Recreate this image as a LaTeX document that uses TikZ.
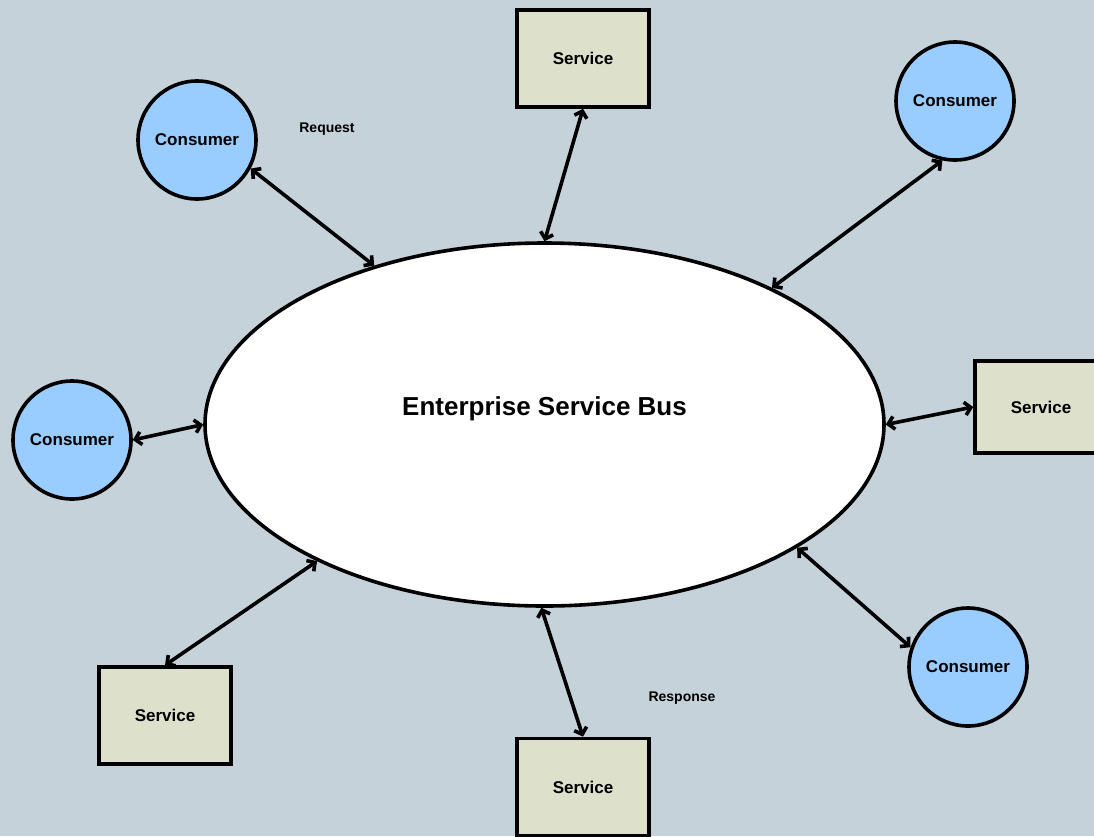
\documentclass[tikz,border=0pt]{standalone}
\usepackage{fontspec}
\setmainfont{Liberation Sans}
\usetikzlibrary{shapes.geometric,arrows.meta}
\definecolor{bgc}{HTML}{C6D2D9}
\definecolor{consc}{HTML}{99CCFF}
\definecolor{servc}{HTML}{DDE0CA}
\tikzset{
  consumer/.style={circle,draw=black,line width=3.6pt,fill=consc,minimum size=118pt,inner sep=0pt,font=\fontsize{17}{20}\selectfont\bfseries},
  service/.style={rectangle,draw=black,line width=3.6pt,fill=servc,minimum width=132pt,minimum height=97pt,inner sep=0pt,font=\fontsize{17}{20}\selectfont\bfseries},
  bus/.style={ellipse,draw=black,line width=3.6pt,fill=white,minimum width=679pt,minimum height=363pt,inner sep=0pt},
  lbl/.style={font=\fontsize{14}{16}\selectfont\bfseries},
  link/.style={line width=3.6pt,{Straight Barb[length=6pt,width=13pt]}-{Straight Barb[length=6pt,width=13pt]}}
}
\begin{document}
\begin{tikzpicture}[x=1pt,y=-1pt]
\fill[bgc] (0,0) rectangle (1094,836);
\useasboundingbox (0,0) rectangle (1094,836);
\node[bus] (esb) at (544.5,424.5) {};
\node[font=\fontsize{26}{30}\selectfont\bfseries] (esbt) at (544.5,409) {Enterprise Service Bus};
\node[consumer] (c1) at (197,140) {Consumer};
\node[consumer] (c2) at (955,101) {Consumer};
\node[consumer] (c3) at (72,440) {Consumer};
\node[consumer] (c4) at (968,667) {Consumer};
\node[service] (s1) at (583,58.5) {Service};
\node[service,minimum height=92pt] (s2) at (1041,407) {Service};
\node[service] (s3) at (165,715.5) {Service};
\node[service] (s4) at (583,787) {Service};
\node[lbl] (req) at (327,129) {Request};
\node[lbl] (resp) at (682,698) {Response};
\draw[link] (c1.-28) -- (esb.137.3);
\draw[link] (s1.south) -- (esb.90.8);
\draw[link] (c2.-102.6) -- (esb.31.3);
\draw[link] (s2.west) -- (esb.-0.6);
\draw[link] (c3.east) -- (esb.180);
\draw[link] (s3.north) -- (esb.211.1);
\draw[link] (s4.north) -- (esb.269.2);
\draw[link] (c4.161.6) -- (esb.-26);
\end{tikzpicture}
\end{document}
